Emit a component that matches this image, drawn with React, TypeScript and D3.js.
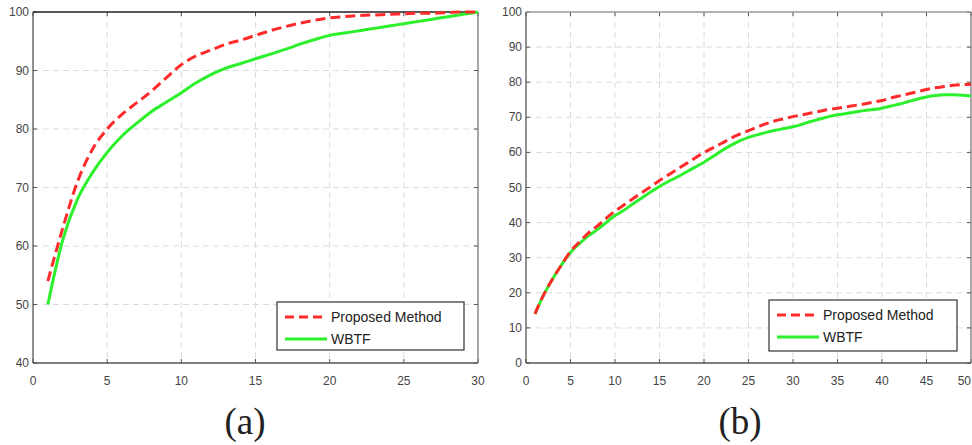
import React from "react";
import * as d3 from "d3";

// x values for each panel
const xsA = d3.range(1, 31);
const xsB = d3.range(1, 51);

// panel (a)
const proposedA = [54, 63, 71, 76.5, 80, 82.5, 84.5, 86.5, 88.8, 91, 92.5, 93.5, 94.5, 95.2, 96, 96.8, 97.5, 98.1, 98.6, 99, 99.2, 99.4, 99.5, 99.6, 99.7, 99.8, 99.8, 99.9, 100, 100];
const wbtfA = [50, 61, 68, 72.5, 76, 78.8, 81, 83, 84.6, 86.2, 87.9, 89.3, 90.4, 91.2, 92, 92.8, 93.6, 94.5, 95.3, 96, 96.4, 96.8, 97.2, 97.6, 98, 98.4, 98.8, 99.2, 99.6, 100];

// panel (b)
const proposedB = [14, 19.5, 24, 28, 31.8, 34.5, 37, 39, 41.2, 43.3, 45, 46.8, 48.5, 50.2, 52, 53.6, 55.2, 56.8, 58.4, 60, 61.3, 62.6, 64, 65.2, 66.2, 67.2, 68.2, 69, 69.6, 70.2, 70.7, 71.2, 71.7, 72.2, 72.6, 73, 73.4, 73.8, 74.3, 74.8, 75.5, 76.1, 76.7, 77.3, 77.9, 78.4, 78.8, 79.1, 79.3, 79.4];
const wbtfB = [14, 19.5, 24, 28, 31.5, 34, 36.2, 38, 40, 42, 43.5, 45.3, 47, 48.7, 50.3, 51.7, 53, 54.4, 55.8, 57.2, 58.8, 60.5, 62, 63.3, 64.3, 65, 65.7, 66.3, 66.8, 67.3, 68, 68.8, 69.5, 70.2, 70.7, 71.1, 71.5, 71.9, 72.2, 72.6, 73.2, 73.8, 74.5, 75.2, 75.8, 76.2, 76.4, 76.4, 76.3, 76.1];

const xTicksA = [0, 5, 10, 15, 20, 25, 30];
const yTicksA = [40, 50, 60, 70, 80, 90, 100];
const xTicksB = [0, 5, 10, 15, 20, 25, 30, 35, 40, 45, 50];
const yTicksB = [0, 10, 20, 30, 40, 50, 60, 70, 80, 90, 100];

const seriesNames = ["Proposed Method", "WBTF"];
const RED = "#ff2a2a";
const GREEN = "#2bf02b";

type PanelProps = {
  left: number; right: number; top: number; bottom: number;
  xDomain: [number, number]; yDomain: [number, number];
  xTicks: number[]; yTicks: number[];
  xs: number[]; red: number[]; green: number[];
  legend: { x: number; y: number; w: number; h: number };
  label: string; labelX: number; topColor: string;
};

function Panel(p: PanelProps) {
  const x = d3.scaleLinear().domain(p.xDomain).range([p.left, p.right]);
  const y = d3.scaleLinear().domain(p.yDomain).range([p.bottom, p.top]);
  const line = d3.line<number>().x((d, i) => x(p.xs[i])).y((d) => y(d)).curve(d3.curveMonotoneX);
  const tick = 4;
  const lg = p.legend;
  return (
    <g>
      {p.xTicks.slice(1, -1).map((t) => (
        <line key={"gx" + t} x1={x(t)} x2={x(t)} y1={p.top} y2={p.bottom} stroke="#dcdcdc" strokeDasharray="6,4" />
      ))}
      {p.yTicks.slice(1, -1).map((t) => (
        <line key={"gy" + t} x1={p.left} x2={p.right} y1={y(t)} y2={y(t)} stroke="#dcdcdc" strokeDasharray="6,4" />
      ))}
      {/* ticks inside on all sides */}
      {p.xTicks.map((t, i) => {
        // the last label would run off the page edge, so keep it inside
        const edge = x(t) > 960;
        return (
          <g key={"tx" + t}>
            <line x1={x(t)} x2={x(t)} y1={p.bottom} y2={p.bottom - tick} stroke="#555" />
            <line x1={x(t)} x2={x(t)} y1={p.top} y2={p.top + tick} stroke="#555" />
            <text x={edge ? 971 : x(t)} y={385} textAnchor={edge ? "end" : "middle"} fontSize={12} fill="#444" fontFamily="Liberation Sans, Arial, sans-serif">{t}</text>
          </g>
        );
      })}
      {p.yTicks.map((t) => (
        <g key={"ty" + t}>
          <line x1={p.left} x2={p.left + tick} y1={y(t)} y2={y(t)} stroke="#555" />
          <line x1={p.right} x2={p.right - tick} y1={y(t)} y2={y(t)} stroke="#555" />
          <text x={p.left - 4} y={y(t) + 4} textAnchor="end" fontSize={12} fill="#444" fontFamily="Liberation Sans, Arial, sans-serif">{t}</text>
        </g>
      ))}
      <line x1={p.left} x2={p.left} y1={p.top} y2={p.bottom} stroke="#555" strokeWidth={1.3} />
      <line x1={p.left} x2={p.right} y1={p.bottom} y2={p.bottom} stroke="#555" strokeWidth={1.3} />
      <line x1={p.right} x2={p.right} y1={p.top} y2={p.bottom} stroke="#777" strokeWidth={1.3} />
      <line x1={p.left} x2={p.right} y1={p.top} y2={p.top} stroke={p.topColor} strokeWidth={1.3} />

      <path d={line(p.green) ?? ""} fill="none" stroke={GREEN} strokeWidth={3} />
      <path d={line(p.red) ?? ""} fill="none" stroke={RED} strokeWidth={3} strokeDasharray="10,5" />

      <rect x={lg.x} y={lg.y} width={lg.w} height={lg.h} fill="#fff" stroke="#333" strokeWidth={1.2} />
      {seriesNames.map((name, i) => {
        const ly = lg.y + 15 + i * 22;
        return (
          <g key={name}>
            <line x1={lg.x + 8} x2={lg.x + 50} y1={ly} y2={ly} stroke={i === 0 ? RED : GREEN} strokeWidth={3} strokeDasharray={i === 0 ? "9,5" : undefined} />
            <text x={lg.x + 54} y={ly + 5} fontSize={14} fill="#222" fontFamily="Liberation Sans, Arial, sans-serif">{name}</text>
          </g>
        );
      })}
      <text x={p.labelX} y={434} textAnchor="middle" fontSize={37} fill="#222" fontFamily="Liberation Serif, Times New Roman, serif">{p.label}</text>
    </g>
  );
}

export default function App() {
  return (
    <svg width={972} height={445} style={{ position: "absolute", left: 0, top: 0, background: "#fff" }}>
      <rect width={972} height={445} fill="#fff" />
      <Panel left={33} right={478} top={12} bottom={363} xDomain={[0, 30]} yDomain={[40, 100]}
        xTicks={xTicksA} yTicks={yTicksA} xs={xsA} red={proposedA} green={wbtfA}
        legend={{ x: 277, y: 302, w: 187, h: 48 }} label="(a)" labelX={245} topColor="#222" />
      <Panel left={526} right={971} top={12} bottom={363} xDomain={[0, 50]} yDomain={[0, 100]}
        xTicks={xTicksB} yTicks={yTicksB} xs={xsB} red={proposedB} green={wbtfB}
        legend={{ x: 769, y: 300, w: 188, h: 51 }} label="(b)" labelX={740} topColor="#999" />
    </svg>
  );
}
